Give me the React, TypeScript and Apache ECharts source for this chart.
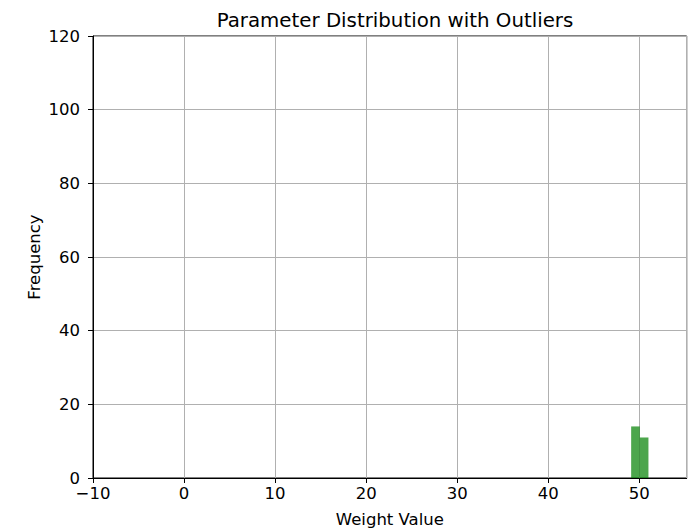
import React, { useEffect, useRef } from "react";
import * as echarts from "echarts";

const title = "Parameter Distribution with Outliers";
const xLabel = "Weight Value";
const yLabel = "Frequency";
const binEdges = [49.1, 50.05, 51.0];
const binCounts = [14, 11];
const xMin = -10;
const xMax = 55.2;
const yMin = 0;
const yMax = 120;

const FONT = "DejaVu Sans, sans-serif";

export default function App() {
  const ref = useRef<HTMLDivElement>(null);
  useEffect(() => {
    if (!ref.current) return;
    const chart = echarts.init(ref.current, null, { renderer: "svg" });
    const data = binCounts.map((c, i) => [binEdges[i], binEdges[i + 1], c]);
    chart.setOption({
      animation: false,
      backgroundColor: "#fff",
      title: {
        text: title,
        left: 390,
        textAlign: "center",
        top: 5,
        textStyle: { fontFamily: FONT, fontSize: 19.8, fontWeight: "normal", color: "#000" },
      },
      grid: {
        left: 93,
        right: 9.3,
        top: 36,
        bottom: 51,
        show: true,
        borderColor: "#000",
        borderWidth: 1,
        backgroundColor: "transparent",
        outerBoundsMode: "none",
        containLabel: false,
      },
      xAxis: {
        type: "value",
        min: xMin,
        max: xMax,
        interval: 10,
        name: xLabel,
        nameLocation: "middle",
        nameGap: 33,
        nameMoveOverlap: false,
        nameTextStyle: { fontFamily: FONT, fontSize: 16.5, color: "#000" },
        axisLine: { show: true, onZero: false, lineStyle: { color: "#000", width: 1 } },
        axisTick: { show: true, length: 5, lineStyle: { color: "#000", width: 1 } },
        axisLabel: {
          fontFamily: FONT,
          fontSize: 16.5,
          color: "#000",
          margin: 7,
          showMaxLabel: false,
          formatter: (v: number) => (v < 0 ? "\u2212" + Math.abs(v) : String(v)),
        },
        splitLine: { show: true, lineStyle: { color: "#b0b0b0", width: 1 } },
      },
      yAxis: {
        type: "value",
        min: yMin,
        max: yMax,
        interval: 20,
        name: yLabel,
        nameLocation: "middle",
        nameGap: 50,
        nameMoveOverlap: false,
        nameTextStyle: { fontFamily: FONT, fontSize: 16.5, color: "#000" },
        axisLine: { show: true, onZero: false, lineStyle: { color: "#000", width: 1 } },
        axisTick: { show: true, length: 5, lineStyle: { color: "#000", width: 1 } },
        axisLabel: { fontFamily: FONT, fontSize: 16.5, color: "#000", margin: 13 },
        splitLine: { show: true, lineStyle: { color: "#b0b0b0", width: 1 } },
      },
      series: [
        {
          type: "custom",
          data,
          encode: { x: [0, 1], y: 2 },
          renderItem: (params: any, api: any) => {
            const p0 = api.coord([api.value(0), api.value(2)]);
            const p1 = api.coord([api.value(1), 0]);
            return {
              type: "rect",
              shape: { x: p0[0], y: p0[1], width: p1[0] - p0[0], height: p1[1] - p0[1] },
              style: { fill: "rgba(0,128,0,0.7)", stroke: "none" },
            };
          },
        },
      ],
    });
    return () => chart.dispose();
  }, []);
  return (
    <div
      ref={ref}
      style={{ position: "fixed", left: 0, top: 0, width: 696, height: 529 }}
    />
  );
}
